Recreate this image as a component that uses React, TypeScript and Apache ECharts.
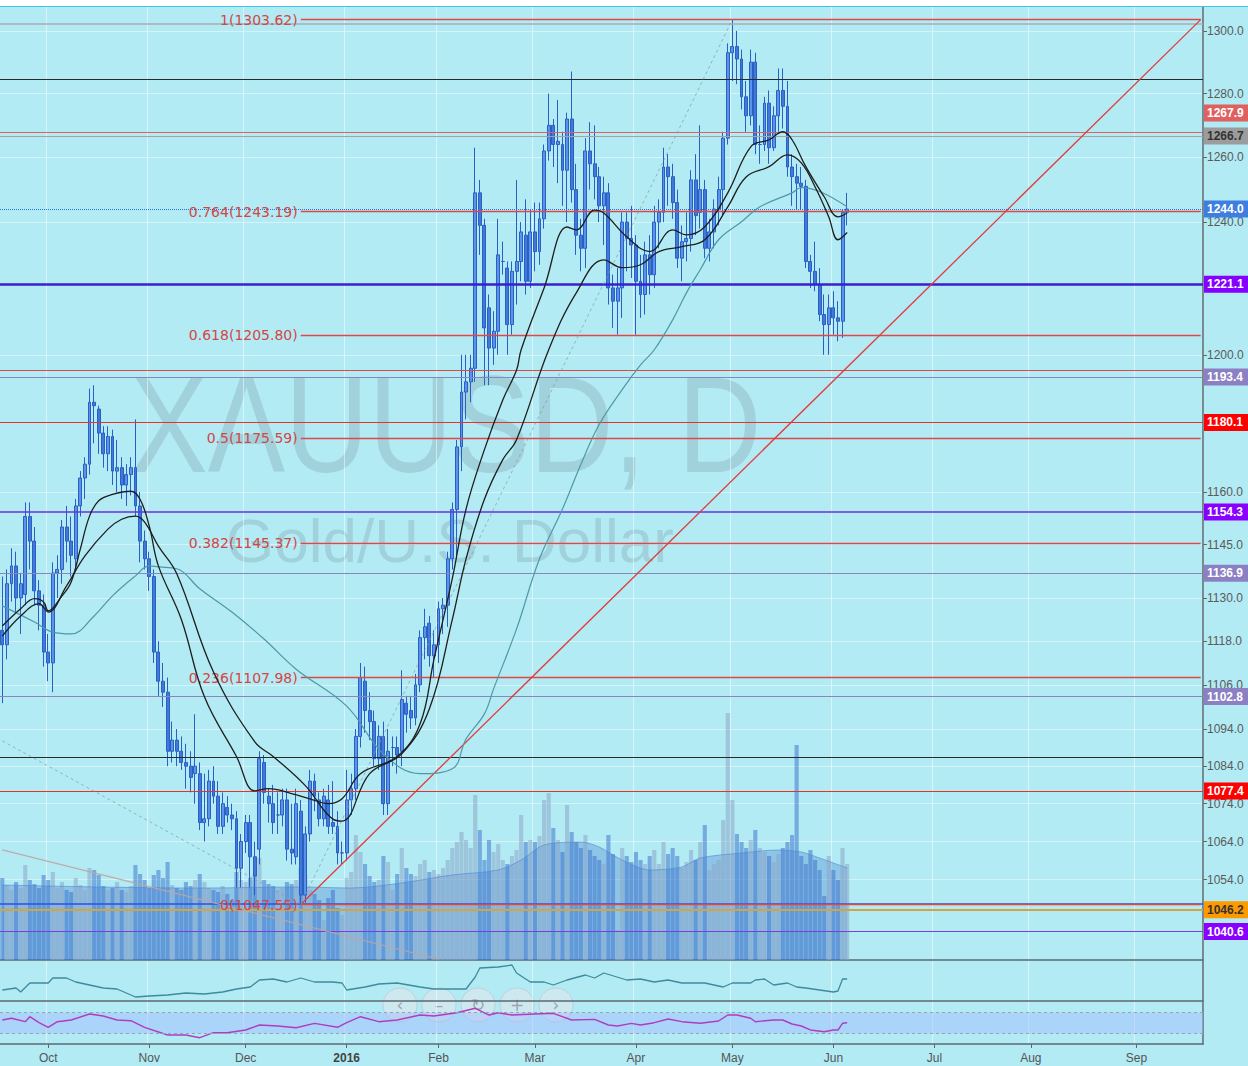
import React, { useEffect, useRef } from "react";
import * as echarts from "echarts";

// ---------- categories (trading days) ----------
const HOLIDAYS = ["2015-12-25", "2016-01-01", "2016-03-25"];
const FIRST_DAY = "2015-09-17";
const BAR_COUNT = 262;
function buildTradingDays(): string[] {
  const out: string[] = [];
  const d = new Date(FIRST_DAY + "T00:00:00Z");
  while (out.length < BAR_COUNT) {
    const wd = d.getUTCDay();
    const s = d.toISOString().slice(0, 10);
    if (wd !== 0 && wd !== 6 && !HOLIDAYS.includes(s)) out.push(s);
    d.setUTCDate(d.getUTCDate() + 1);
  }
  return out;
}
const CATS = buildTradingDays();
const MONTHS = ["Jan", "Feb", "Mar", "Apr", "May", "Jun", "Jul", "Aug", "Sep", "Oct", "Nov", "Dec"];

// ---------- price data: [open, close, low, high] ----------
const OHLC: number[][] = [
  [1121, 1117, 1101, 1136], [1117, 1134, 1113, 1138], [1134, 1139, 1129, 1144], [1139, 1130, 1126, 1143],
  [1130, 1134, 1120, 1137], [1131, 1153, 1128, 1157], [1153, 1146, 1138, 1157], [1146, 1132, 1128, 1150],
  [1132, 1128, 1121, 1135], [1128, 1115, 1111, 1131],
  // Oct
  [1115, 1112, 1107, 1120], [1112, 1137, 1104, 1140], [1137, 1138, 1130, 1142], [1138, 1150, 1134, 1152],
  [1150, 1146, 1140, 1156], [1146, 1142, 1136, 1153], [1141, 1156, 1138, 1158], [1156, 1164, 1153, 1166],
  [1164, 1168, 1158, 1170], [1168, 1186, 1165, 1190], [1186, 1185, 1174, 1191], [1184, 1177, 1171, 1185],
  [1177, 1171, 1167, 1179], [1171, 1176, 1166, 1179], [1176, 1166, 1162, 1178], [1166, 1167, 1160, 1175],
  [1167, 1162, 1158, 1170], [1162, 1165, 1156, 1168], [1165, 1167, 1159, 1170], [1167, 1156, 1153, 1181],
  [1156, 1146, 1140, 1160], [1146, 1141, 1138, 1149],
  // Nov
  [1141, 1136, 1132, 1143], [1136, 1115, 1112, 1138], [1115, 1107, 1103, 1118], [1107, 1104, 1100, 1112],
  [1104, 1088, 1084, 1108], [1088, 1091, 1085, 1096], [1091, 1088, 1084, 1094], [1088, 1085, 1083, 1092],
  [1085, 1084, 1078, 1090], [1084, 1081, 1077, 1088], [1082, 1084, 1074, 1098], [1082, 1069, 1067, 1085],
  [1069, 1070, 1064, 1082], [1070, 1080, 1068, 1083], [1080, 1076, 1074, 1084], [1076, 1068, 1066, 1080],
  [1068, 1074, 1066, 1077], [1073, 1071, 1069, 1076], [1071, 1070, 1067, 1074], [1070, 1057, 1052, 1072],
  [1057, 1064, 1052, 1066],
  // Dec
  [1064, 1069, 1061, 1071], [1069, 1060, 1052, 1071], [1060, 1055, 1050, 1064], [1062, 1086, 1058, 1088],
  [1085, 1077, 1074, 1087], [1076, 1074, 1069, 1078], [1074, 1069, 1066, 1079], [1071, 1071, 1066, 1077],
  [1071, 1075, 1068, 1078], [1075, 1062, 1059, 1078], [1062, 1061, 1058, 1074], [1060, 1074, 1058, 1078],
  [1072, 1050, 1047.55, 1075], [1050, 1066, 1048, 1068], [1066, 1080, 1064, 1083], [1080, 1076, 1072, 1082],
  [1075, 1070, 1068, 1077], [1070, 1076, 1068, 1078], [1075, 1068, 1066, 1079], [1069, 1068, 1066, 1080],
  [1068, 1061, 1058, 1072], [1061, 1061, 1058, 1064],
  // Jan
  [1061, 1075, 1059, 1083], [1075, 1078, 1071, 1082], [1078, 1092, 1075, 1094], [1092, 1108, 1089, 1112],
  [1107, 1099, 1093, 1111], [1099, 1096, 1091, 1104], [1096, 1086, 1084, 1099], [1086, 1092, 1083, 1095],
  [1092, 1074, 1071, 1096], [1074, 1088, 1071, 1094], [1089, 1089, 1084, 1092], [1089, 1087, 1082, 1092],
  [1088, 1102, 1084, 1110], [1101, 1098, 1093, 1103], [1099, 1097, 1094, 1103], [1097, 1106, 1095, 1109],
  [1106, 1119, 1104, 1121], [1119, 1122, 1113, 1127], [1123, 1114, 1111, 1125], [1114, 1117, 1108, 1121],
  // Feb
  [1117, 1127, 1112, 1129], [1127, 1128, 1120, 1130], [1128, 1141, 1122, 1143], [1141, 1155, 1138, 1157],
  [1155, 1173, 1141, 1175], [1173, 1189, 1166, 1200], [1189, 1192, 1181, 1200], [1192, 1196, 1186, 1200],
  [1196, 1249, 1192, 1263], [1249, 1239, 1230, 1253], [1239, 1208, 1191, 1241], [1214, 1202, 1191, 1218],
  [1202, 1207, 1197, 1213], [1207, 1230, 1200, 1241], [1228, 1228, 1224, 1234], [1226, 1209, 1200, 1228],
  [1209, 1225, 1206, 1228], [1225, 1228, 1215, 1253], [1228, 1237, 1222, 1240], [1236, 1222, 1218, 1247],
  [1222, 1237, 1220, 1244],
  // Mar
  [1237, 1231, 1225, 1246], [1231, 1241, 1227, 1246], [1241, 1262, 1238, 1264], [1262, 1270, 1259, 1280],
  [1270, 1264, 1257, 1272], [1264, 1265, 1252, 1278], [1264, 1256, 1245, 1268], [1256, 1272, 1240, 1274],
  [1272, 1250, 1246, 1287], [1250, 1236, 1230, 1258], [1236, 1232, 1225, 1241], [1232, 1262, 1226, 1266],
  [1262, 1258, 1250, 1271], [1258, 1254, 1247, 1270], [1254, 1245, 1240, 1257], [1245, 1249, 1233, 1254],
  [1249, 1220, 1215, 1252], [1220, 1216, 1208, 1224], [1216, 1220, 1206, 1226], [1220, 1240, 1211, 1243],
  [1240, 1235, 1225, 1243], [1235, 1233, 1223, 1245],
  // Apr
  [1233, 1222, 1206, 1236], [1222, 1218, 1211, 1230], [1218, 1230, 1212, 1234], [1230, 1224, 1218, 1236],
  [1224, 1240, 1220, 1245], [1240, 1243, 1232, 1247], [1243, 1257, 1240, 1263], [1257, 1254, 1245, 1261],
  [1254, 1246, 1241, 1258], [1246, 1229, 1226, 1250], [1229, 1234, 1222, 1239], [1234, 1235, 1228, 1243],
  [1235, 1253, 1231, 1256], [1253, 1242, 1236, 1261], [1243, 1250, 1238, 1270], [1250, 1232, 1229, 1253],
  [1232, 1237, 1228, 1241], [1237, 1244, 1232, 1247], [1244, 1250, 1239, 1254], [1250, 1266, 1242, 1268],
  [1266, 1293, 1264, 1296],
  // May
  [1293, 1295, 1284, 1303.62], [1295, 1291, 1283, 1300], [1291, 1279, 1275, 1294], [1279, 1273, 1268, 1284],
  [1273, 1290, 1270, 1294], [1290, 1264, 1261, 1293], [1264, 1264, 1258, 1270], [1264, 1277, 1262, 1279],
  [1277, 1263, 1258, 1281], [1263, 1273, 1262, 1276], [1273, 1281, 1268, 1288], [1281, 1276, 1269, 1288],
  [1276, 1257, 1254, 1284], [1257, 1254, 1245, 1261], [1254, 1252, 1244, 1258], [1252, 1251, 1244, 1257],
  [1251, 1228, 1226, 1253], [1228, 1225, 1220, 1230], [1225, 1221, 1219, 1234], [1221, 1212, 1210, 1226],
  [1212, 1209, 1200, 1218], [1209, 1214, 1200, 1218],
  // Jun
  [1214, 1211, 1206, 1219], [1211, 1210, 1204, 1216], [1210, 1243, 1205, 1244], [1243, 1244, 1239, 1249],
];

// moving averages as [barIndex, price]
const MA_FAST: number[][] = [
  [0, 1122.2], [4, 1127.0], [7, 1129.8], [9, 1128.9], [10, 1126.4], [13, 1130.6], [15, 1134.5], [17, 1143.8],
  [19, 1153.1], [21, 1157.5], [24, 1159.3], [28, 1160.2], [30, 1157.9], [32, 1150.3], [34, 1139.0], [39, 1124.0],
  [44, 1102.8], [51, 1086.6], [55, 1077.4], [58, 1078.0], [63, 1076.7], [67, 1075.3], [71, 1074.0], [74, 1075.3],
  [78, 1082.0], [86, 1086.6], [91, 1095.4], [94, 1112.9], [98, 1135.4], [101, 1155.1], [105, 1172.2], [109, 1186.7],
  [112, 1195.5], [113, 1201.5], [118, 1220.0], [123, 1238.5], [125, 1237.6], [129, 1243.7], [131, 1242.8],
  [136, 1235.5], [141, 1231.0], [146, 1237.6], [149, 1236.1], [153, 1238.6], [158, 1249.0], [163, 1263.3],
  [167, 1265.5], [170, 1268.0], [172, 1265.5], [175, 1257.1], [179, 1247.8], [182, 1241.6], [184, 1242.8],
];
const MA_SLOW: number[][] = [
  [0, 1119.4], [4, 1125.0], [8, 1128.4], [10, 1126.1], [14, 1133.4], [18, 1141.8], [23, 1149.4], [26, 1152.2],
  [29, 1153.1], [31, 1151.4], [34, 1144.6], [38, 1136.8], [46, 1109.5], [55, 1090.5], [59, 1086.6], [66, 1078.8],
  [72, 1069.9], [74, 1069.4], [80, 1082.0], [87, 1087.3], [93, 1099.4], [98, 1124.0], [101, 1141.0], [105, 1157.9],
  [109, 1169.3], [112, 1175.1], [119, 1201.5], [125, 1218.5], [131, 1228.5], [135, 1226.1], [139, 1227.0],
  [143, 1231.0], [148, 1232.5], [153, 1234.6], [158, 1244.7], [162, 1253.9], [167, 1257.1], [171, 1260.8],
  [174, 1258.3], [177, 1250.9], [180, 1241.6], [182, 1234.6], [184, 1236.8],
];
const MA_LONG: number[][] = [
  [0, 1127.8], [7, 1123.3], [11, 1120.5], [15, 1120.0], [20, 1125.0], [24, 1130.6], [29, 1136.2], [32, 1139.0],
  [34, 1138.7], [38, 1138.2], [43, 1132.6], [50, 1126.1], [57, 1118.6], [64, 1110.3], [75, 1100.2], [83, 1087.3],
  [91, 1082.0], [98, 1083.3], [101, 1091.3], [105, 1098.1], [107, 1104.9], [112, 1121.4], [117, 1141.0],
  [122, 1155.1], [126, 1167.9], [130, 1179.5], [135, 1189.7], [139, 1197.0], [142, 1201.5], [146, 1210.4],
  [149, 1218.5], [152, 1225.5], [156, 1234.6], [161, 1240.1], [165, 1244.7], [172, 1249.0], [174, 1250.6],
  [178, 1249.4], [184, 1244.7],
];

// volume
const VOLUME: number[] = [
  82, 75, 70, 78, 72, 95, 80, 76, 72, 85,
  80, 88, 72, 78, 70, 68, 82, 75, 70, 92, 90, 85, 74, 70, 72, 78, 70, 68, 74, 95, 86, 80,
  72, 85, 90, 82, 98, 75, 72, 70, 78, 74, 80, 86, 78, 72, 70, 68, 74, 66, 60, 88, 80,
  78, 82, 86, 102, 80, 76, 74, 70, 72, 78, 76, 80, 92, 85, 70, 66, 60, 40, 62, 70, 52, 45,
  82, 88, 125, 108, 96, 84, 78, 80, 104, 98, 70, 86, 112, 92, 86, 84, 96, 100, 88, 90,
  86, 92, 100, 112, 118, 128, 120, 112, 165, 130, 100, 120, 108, 116, 100, 96, 104, 110, 145, 118, 120,
  118, 124, 160, 167, 132, 120, 108, 155, 128, 118, 112, 125, 110, 104, 100, 96, 125, 106, 30, 112, 104, 98,
  108, 100, 96, 104, 110, 96, 118, 106, 112, 104, 92, 98, 110, 100, 118, 135, 90, 96, 100, 140, 247,
  160, 126, 118, 112, 120, 130, 112, 108, 104, 98, 106, 112, 118, 125, 215, 104, 96, 110, 100, 90, 64, 104,
  90, 80, 112, 96,
];
const VOLUME_MA: number[][] = [
  [0, 75], [21, 73], [43, 72], [65, 73], [76, 72], [87, 77], [98, 85], [108, 90], [113, 100], [118, 115],
  [126, 118], [130, 113], [135, 100], [141, 90], [148, 93], [152, 102], [161, 107], [169, 110], [174, 108],
  [178, 102], [184, 92],
];

// indicator panes
const IND1: number[][] = [
  [0, 11], [3, 13], [4, 9], [6, 18], [10, 18], [11, 23], [14, 23], [16, 19], [19, 16], [22, 13], [25, 12],
  [29, 4], [32, 5], [36, 6], [40, 8], [44, 7], [48, 9], [51, 12], [54, 14], [56, 21], [59, 22], [62, 19],
  [65, 23], [68, 19], [72, 19], [74, 18], [75, 11], [79, 14], [82, 17], [86, 18], [91, 14], [94, 12],
  [101, 12], [103, 24], [104, 33], [108, 34], [111, 36], [112, 28], [115, 19], [118, 19], [120, 16],
  [123, 21], [127, 26], [129, 23], [131, 28], [136, 21], [139, 22], [142, 19], [145, 21], [148, 18],
  [153, 18], [156, 15], [157, 14], [159, 18], [163, 18], [164, 21], [166, 22], [168, 16], [171, 18],
  [173, 14], [175, 13], [178, 11], [181, 9], [182, 10], [183, 22], [184, 22],
];
const IND2: number[][] = [
  [0, 55.7], [2, 59], [5, 52.5], [6, 62], [8, 50.6], [10, 41.8], [12, 52.5], [15, 55.7], [19, 67.1], [22, 63.3],
  [25, 55.7], [28, 54.4], [31, 41.8], [36, 27.1], [40, 27.1], [43, 22], [46, 31.5], [49, 31.5], [53, 36.7],
  [56, 46.2], [60, 44.3], [64, 41], [68, 49.4], [73, 41.8], [75, 50.6], [78, 62], [82, 52.5], [86, 55.7],
  [91, 65.2], [94, 63.3], [99, 69.6], [103, 78], [106, 65.2], [108, 69.6], [111, 65.2], [116, 67.1],
  [120, 68.5], [124, 55.7], [129, 57], [132, 46.2], [134, 44.3], [137, 49.4], [139, 46.2], [142, 50.6],
  [145, 57.6], [148, 52.5], [152, 49.4], [156, 53.8], [158, 65.2], [160, 65.2], [163, 59], [164, 52.5],
  [168, 55.7], [170, 55.7], [172, 48.1], [174, 44.3], [176, 36.7], [179, 33.4], [181, 36.7], [182, 36.7],
  [183, 49.4], [184, 50.6],
];

// axis ticks
const PRICE_TICKS = [1300, 1280, 1260, 1240, 1200, 1160, 1145, 1130, 1118, 1106, 1094, 1084, 1074, 1064, 1054];
const PRICE_MIN = 1033.3;
const PRICE_MAX = 1307.7;

// fibonacci retracement (Dec 17 low -> May 2 high)
const FIB_RATIOS = ["1", "0.764", "0.618", "0.5", "0.382", "0.236", "0"];
const FIB_PRICES = [1303.62, 1243.19, 1205.8, 1175.59, 1145.37, 1107.98, 1047.55];
const FIB_START_BAR = 65;
const FIB_HIGH_BAR = 159;

// horizontal levels
const LEVEL_PRICES = [1302.25, 1284.5, 1267.9, 1266.7, 1244.0, 1221.1, 1195.4, 1193.4, 1180.1, 1154.3, 1136.9, 1102.8, 1086.5, 1077.4, 1047.7, 1046.2, 1040.6];
const LEVEL_TAGGED = [false, false, true, true, true, true, false, true, true, true, true, true, false, true, false, true, true];

// trend lines [barIndex, price] pairs
const TREND_LEFT_DOTTED = [[0, 1090.8], [65, 1047.55]];
const TREND_LEFT_SOLID = [[0, 1061.8], [95, 1033.5]];

// ---------- styles ----------
const BG = "#b2ebf4";
const LEVEL_STYLES = [
  { c: "#a9adb5", w: 1.5 },
  { c: "#2a2a2a", w: 1.2 },
  { c: "#e06060", w: 1.2, bg: "#e06060", fg: "#fff", dy: -19 },
  { c: "#a3a3a3", w: 1.2, bg: "#9c9c9c", fg: "#333" },
  { c: "#2f6fd6", w: 1, t: "dotted", bg: "#3d7ee0", fg: "#fff" },
  { c: "#3a1fd0", w: 2.5, bg: "#8400ff", fg: "#fff" },
  { c: "#e04848", w: 1.2 },
  { c: "#8a86bb", w: 1.2, bg: "#8c80c4", fg: "#fff" },
  { c: "#e83030", w: 1.2, bg: "#ff0000", fg: "#fff" },
  { c: "#6a30e0", w: 1.5, bg: "#8a00ff", fg: "#fff" },
  { c: "#8a86bb", w: 1.2, bg: "#8c80c4", fg: "#fff" },
  { c: "#8a86bb", w: 1.2, bg: "#8c80c4", fg: "#fff" },
  { c: "#2a2a2a", w: 1.2 },
  { c: "#e83030", w: 1.2, bg: "#ff0000", fg: "#fff" },
  { c: "#2f4fe0", w: 1.5 },
  { c: "#d2a544", w: 2, bg: "#ff9900", fg: "#333" },
  { c: "#7a3de0", w: 1.2, bg: "#8a00ff", fg: "#fff" },
];

const L = Math.log;

function isMonthStart(i: number): boolean {
  return i > 0 && CATS[i].slice(0, 7) !== CATS[i - 1].slice(0, 7);
}

function buildOption(): any {
  const lastCat = CATS[CATS.length - 1];

  const levelLines = LEVEL_PRICES.map((p, i) => {
    const s: any = LEVEL_STYLES[i];
    return {
      yAxis: L(p),
      lineStyle: { color: s.c, width: s.w, type: s.t || "solid" },
      label: LEVEL_TAGGED[i]
        ? {
            show: true,
            position: "end",
            distance: 1,
            offset: [0, s.dy || 0],
            formatter: p.toFixed(1),
            backgroundColor: s.bg,
            color: s.fg,
            fontSize: 12,
            fontWeight: "bold",
            fontFamily: "Liberation Sans, Arial, sans-serif",
            padding: [3, 12, 2, 3],
          }
        : { show: false },
    };
  });

  const fibLines = FIB_PRICES.map((p, i) => [
    {
      coord: [CATS[FIB_START_BAR], L(p)],
      lineStyle: { color: "#e04848", width: 1.3, type: "solid" },
      label: {
        show: true,
        position: "start",
        distance: 3,
        formatter: `${FIB_RATIOS[i]}(${p.toFixed(2)})`,
        color: "#d64545",
        fontSize: 14,
        fontFamily: "DejaVu Sans, sans-serif",
      },
    },
    { coord: [lastCat, L(p)] },
  ]);

  const trendLines = [
    [
      { coord: [CATS[FIB_START_BAR], L(FIB_PRICES[6])], lineStyle: { color: "#e23b3b", width: 1.3, type: "solid" }, label: { show: false } },
      { coord: [lastCat, L(FIB_PRICES[0])] },
    ],
    [
      { coord: [CATS[FIB_START_BAR], L(FIB_PRICES[6])], lineStyle: { color: "rgba(140,150,160,0.7)", width: 1, type: [3, 3] }, label: { show: false } },
      { coord: [CATS[FIB_HIGH_BAR], L(FIB_PRICES[0])] },
    ],
    [
      { coord: [CATS[TREND_LEFT_DOTTED[0][0]], L(TREND_LEFT_DOTTED[0][1])], lineStyle: { color: "rgba(140,150,160,0.7)", width: 1, type: [3, 3] }, label: { show: false } },
      { coord: [CATS[TREND_LEFT_DOTTED[1][0]], L(TREND_LEFT_DOTTED[1][1])] },
    ],
    [
      { coord: [CATS[TREND_LEFT_SOLID[0][0]], L(TREND_LEFT_SOLID[0][1])], lineStyle: { color: "rgba(190,165,160,0.9)", width: 1.2, type: "solid" }, label: { show: false } },
      { coord: [CATS[TREND_LEFT_SOLID[1][0]], L(TREND_LEFT_SOLID[1][1])] },
    ],
  ];

  const axisLineColor = "#5d6870";
  const gridlineColor = "rgba(255,255,255,0.5)";

  const makeX = (gi: number, showLabels: boolean, showLine: boolean) => ({
    type: "category",
    gridIndex: gi,
    data: CATS,
    boundaryGap: true,
    axisLine: { show: showLine, onZero: false, lineStyle: { color: axisLineColor, width: 1.5 } },
    axisTick: {
      show: showLabels,
      alignWithLabel: true,
      interval: (i: number) => isMonthStart(i),
      length: 4,
      lineStyle: { color: axisLineColor },
    },
    axisLabel: {
      show: showLabels,
      interval: (i: number) => isMonthStart(i),
      color: "#555",
      fontSize: 12,
      fontFamily: "Liberation Sans, Arial, sans-serif",
      margin: 8,
      formatter: (v: string) => {
        const m = parseInt(v.slice(5, 7), 10) - 1;
        if (m === 0) return "{b|" + v.slice(0, 4) + "}";
        return MONTHS[m];
      },
      rich: { b: { fontWeight: "bold", color: "#444", fontSize: 12, fontFamily: "Liberation Sans, Arial, sans-serif" } },
    },
    splitLine: {
      show: gi !== 1,
      interval: (i: number) => isMonthStart(i),
      lineStyle: { color: gridlineColor, width: 1 },
    },
  });

  const tickVals = PRICE_TICKS.map(L);

  const upColor = (i: number) => OHLC[i][1] >= OHLC[i][0];

  return {
    animation: false,
    backgroundColor: BG,
    grid: [
      { left: 0, right: 45, top: 7, bottom: 106 },
      { left: 0, right: 45, top: 700, bottom: 106 },
      { left: 0, right: 45, top: 961, bottom: 65 },
      { left: 0, right: 45, top: 1002, bottom: 22 },
    ],
    xAxis: [makeX(0, false, true), makeX(1, false, false), makeX(2, false, true), makeX(3, true, true)],
    yAxis: [
      {
        type: "value",
        gridIndex: 0,
        position: "right",
        min: L(PRICE_MIN),
        max: L(PRICE_MAX),
        axisLine: { show: true, lineStyle: { color: axisLineColor, width: 1.5 } },
        axisTick: { show: true, customValues: tickVals, length: 4, lineStyle: { color: "#666" } },
        axisLabel: {
          show: true,
          customValues: tickVals,
          formatter: (v: number) => Math.exp(v).toFixed(1),
          color: "#5a5a5a",
          fontSize: 12,
          fontFamily: "Liberation Sans, Arial, sans-serif",
          margin: 4,
        },
        splitLine: { show: true, lineStyle: { color: "rgba(255,255,255,0.45)", width: 1 } },
      },
      { type: "value", gridIndex: 1, min: 0, max: 260, show: false },
      {
        type: "value",
        gridIndex: 2,
        position: "right",
        min: 0,
        max: 40,
        axisLine: { show: true, lineStyle: { color: axisLineColor, width: 1.5 } },
        axisTick: { show: false },
        axisLabel: { show: false },
        splitLine: { show: false },
      },
      {
        type: "value",
        gridIndex: 3,
        position: "right",
        min: 10,
        max: 90,
        axisLine: { show: true, lineStyle: { color: axisLineColor, width: 1.5 } },
        axisTick: { show: false },
        axisLabel: { show: false },
        splitLine: { show: false },
      },
    ],
    graphic: [
      {
        type: "text",
        x: 446,
        y: 424,
        z: -10,
        scaleX: 0.84,
        style: {
          text: "XAUUSD, D",
          fontSize: 138,
          fontFamily: "Liberation Sans, Arial, sans-serif",
          fill: "rgba(100,120,130,0.22)",
          textAlign: "center",
          textVerticalAlign: "middle",
        },
      },
      {
        type: "text",
        x: 450,
        y: 540,
        z: -10,
        style: {
          text: "Gold/U.S. Dollar",
          fontSize: 62,
          fontFamily: "Liberation Sans, Arial, sans-serif",
          fill: "rgba(100,120,130,0.22)",
          textAlign: "center",
          textVerticalAlign: "middle",
        },
      },
      { type: "rect", z: 100, shape: { x: 0, y: 0, width: 1248, height: 6 }, style: { fill: "#ffffff" } },
      { type: "line", z: 100, shape: { x1: 0, y1: 6.5, x2: 1248, y2: 6.5 }, style: { stroke: "#3fc3ea", lineWidth: 1 } },
      ...["‹", "–", "↻", "+", "›"].map((g, k) => ({
        type: "group",
        x: 400 + k * 39,
        y: 1005,
        z: 100,
        children: [
          { type: "circle", shape: { cx: 0, cy: 0, r: 17 }, style: { fill: "rgba(222,230,236,0.62)", stroke: "rgba(190,200,210,0.8)", lineWidth: 1 } },
          {
            type: "text",
            x: 0,
            y: 0,
            style: {
              text: g,
              fontSize: 17,
              fontFamily: "DejaVu Sans, sans-serif",
              fill: "rgba(150,160,172,0.95)",
              textAlign: "center",
              textVerticalAlign: "middle",
            },
          },
        ],
      })),
    ],
    series: [
      {
        type: "bar",
        xAxisIndex: 1,
        yAxisIndex: 1,
        z: 1,
        silent: true,
        barCategoryGap: "10%",
        data: VOLUME.map((v, i) => ({
          value: v,
          itemStyle: { color: upColor(i) ? "rgba(140,165,200,0.55)" : "rgba(60,115,205,0.52)" },
        })),
      },
      {
        type: "line",
        xAxisIndex: 1,
        yAxisIndex: 1,
        z: 1,
        silent: true,
        smooth: 0.3,
        showSymbol: false,
        data: VOLUME_MA.map(([i, v]) => [CATS[i], v]),
        lineStyle: { color: "rgba(80,135,210,0.6)", width: 1 },
        areaStyle: { color: "rgba(60,115,205,0.45)" },
      },
      {
        type: "line",
        xAxisIndex: 0,
        yAxisIndex: 0,
        z: 2,
        silent: true,
        data: [],
        markLine: {
          silent: true,
          symbol: ["none", "none"],
          precision: 10,
          animation: false,
          data: [...levelLines, ...fibLines, ...trendLines],
        },
      },
      {
        type: "candlestick",
        xAxisIndex: 0,
        yAxisIndex: 0,
        z: 4,
        silent: true,
        barWidth: 3.4,
        data: OHLC.map((r) => r.map(L)),
        itemStyle: {
          color: "#5b93ea",
          color0: "#4079da",
          borderColor: "#2a5fc4",
          borderColor0: "#2a5fc4",
          borderWidth: 1,
        },
      },
      {
        type: "line",
        xAxisIndex: 0,
        yAxisIndex: 0,
        z: 5,
        silent: true,
        smooth: 0.4,
        showSymbol: false,
        data: MA_LONG.map(([i, p]) => [CATS[i], L(p)]),
        lineStyle: { color: "#4f98a6", width: 1.2 },
      },
      {
        type: "line",
        xAxisIndex: 0,
        yAxisIndex: 0,
        z: 5,
        silent: true,
        smooth: 0.4,
        showSymbol: false,
        data: MA_SLOW.map(([i, p]) => [CATS[i], L(p)]),
        lineStyle: { color: "#1e1e1e", width: 1.3 },
      },
      {
        type: "line",
        xAxisIndex: 0,
        yAxisIndex: 0,
        z: 5,
        silent: true,
        smooth: 0.4,
        showSymbol: false,
        data: MA_FAST.map(([i, p]) => [CATS[i], L(p)]),
        lineStyle: { color: "#1e1e1e", width: 1.3 },
      },
      {
        type: "line",
        xAxisIndex: 2,
        yAxisIndex: 2,
        silent: true,
        showSymbol: false,
        data: IND1.map(([i, v]) => [CATS[i], v]),
        lineStyle: { color: "#3f8a9c", width: 1.3 },
      },
      {
        type: "line",
        xAxisIndex: 3,
        yAxisIndex: 3,
        silent: true,
        showSymbol: false,
        data: IND2.map(([i, v]) => [CATS[i], v]),
        lineStyle: { color: "#b03cc0", width: 1.4 },
        markArea: {
          silent: true,
          itemStyle: { color: "rgba(160,185,255,0.45)" },
          data: [[{ yAxis: 30 }, { yAxis: 70 }]],
        },
        markLine: {
          silent: true,
          symbol: ["none", "none"],
          label: { show: false },
          lineStyle: { color: "#9aa3ad", type: [3, 3], width: 1 },
          data: [{ yAxis: 30 }, { yAxis: 70 }],
        },
      },
    ],
  };
}

export default function App() {
  const ref = useRef<HTMLDivElement>(null);
  useEffect(() => {
    document.body.style.margin = "0";
    if (!ref.current) return;
    const chart = echarts.init(ref.current, undefined, { renderer: "svg" });
    chart.setOption(buildOption());
    return () => chart.dispose();
  }, []);
  return <div ref={ref} style={{ width: 1248, height: 1066, background: "#fff" }} />;
}
